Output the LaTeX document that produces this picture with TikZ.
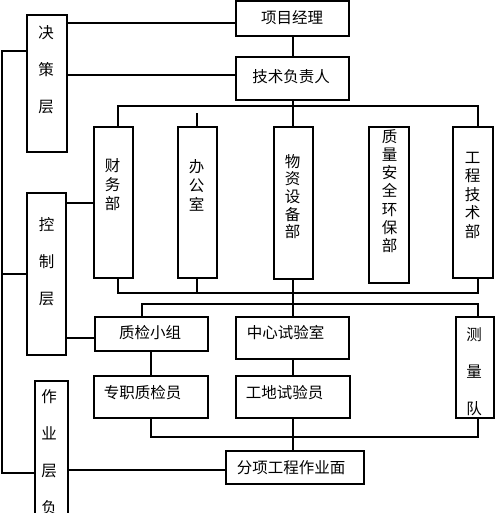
\documentclass[tikz,border=0pt]{standalone}
\usepackage{fontspec}
\newfontfamily\cjk{Noto Sans CJK SC}
\begin{document}
\begin{tikzpicture}[x=1pt,y=-1pt,line width=2pt,
  box/.style={draw,line width=2pt,inner sep=0pt,outer sep=0pt,anchor=north west},
  htxt/.style={font=\cjk\fontsize{15.5}{18}\selectfont,inner sep=0pt},
  vwide/.style={font=\cjk\fontsize{15.5}{37}\selectfont,inner sep=0pt,align=center},
  vnarrow/.style={font=\cjk\fontsize{15.5}{#1}\selectfont,inner sep=0pt,align=center}]
\useasboundingbox (0,0) rectangle (495,513);
% boxes
\node[box,minimum width=40pt,minimum height=137pt] (jc) at (27,15) {};
\node[box,minimum width=39pt,minimum height=162pt] (kz) at (27,193) {};
\node[box,minimum width=33pt,minimum height=140pt] (zy) at (35,381) {};
\node[box,minimum width=113pt,minimum height=35pt] (xmjl) at (236,1) {};
\node[box,minimum width=113pt,minimum height=43pt] (jsfz) at (236,57) {};
\node[box,minimum width=39pt,minimum height=151pt] (cw) at (94,127) {};
\node[box,minimum width=39pt,minimum height=151pt] (bg) at (178,127) {};
\node[box,minimum width=39pt,minimum height=152pt] (wz) at (274,127) {};
\node[box,minimum width=40pt,minimum height=156pt] (zl) at (369,127) {};
\node[box,minimum width=40pt,minimum height=151pt] (gc) at (453,127) {};
\node[box,minimum width=113pt,minimum height=34pt] (zj) at (95,317) {};
\node[box,minimum width=113pt,minimum height=42pt] (zx) at (236,317) {};
\node[box,minimum width=38pt,minimum height=101pt] (cl) at (456,317) {};
\node[box,minimum width=114pt,minimum height=42pt] (zz) at (94,376) {};
\node[box,minimum width=114pt,minimum height=42pt] (gd) at (236,376) {};
\node[box,minimum width=138pt,minimum height=33pt] (fx) at (226,451) {};
% texts
\node[vwide] (jct) at (46,70) {决\\策\\层};
\node[vwide] (kzt) at (46.5,262) {控\\制\\层};
\node[vwide] (zyt) at (49,452) {作\\业\\层\\负};
\node[vwide] (clt) at (474,371.5) {测\\量\\队};
\node[vnarrow=19] (cwt) at (112.5,185) {财\\务\\部};
\node[vnarrow=19] (bgt) at (196.5,185) {办\\公\\室};
\node[vnarrow=17.7] (wzt) at (292.5,196.5) {物\\资\\设\\备\\部};
\node[vnarrow=18.2] (zlt) at (389.5,191) {质\\量\\安\\全\\环\\保\\部};
\node[vnarrow=18.5] (gct) at (472.5,195) {工\\程\\技\\术\\部};
\node[htxt] (xmjlt) at (292,18) {项目经理};
\node[htxt] (jsfzt) at (291,77) {技术负责人};
\node[htxt] (zjt) at (150,333) {质检小组};
\node[htxt] (zxt) at (285.5,333) {中心试验室};
\node[htxt] (zzt) at (142.5,393) {专职质检员};
\node[htxt] (gdt) at (284.5,393) {工地试验员};
\node[htxt] (fxt) at (291,468) {分项工程作业面};
% coordinates
\coordinate (lt) at (2,51);
\coordinate (lb) at (2,473);
\coordinate (y23) at (0,23);
\coordinate (y75) at (0,75);
\coordinate (bL) at (118,106);
\coordinate (bR) at (478,106);
\coordinate (bgs) at (197,113);
\coordinate (mL) at (118,293);
\coordinate (mR) at (478,293);
\coordinate (nL) at (142,304);
\coordinate (nR) at (478,304);
\coordinate (y203) at (0,203);
\coordinate (y338) at (0,338);
\coordinate (qL) at (151,437);
\coordinate (qR) at (478,437);
\coordinate (y470) at (0,470);
% connectors
\draw (jc.east |- y23) -- (xmjl.west |- y23);
\draw (jc.east |- y75) -- (jsfz.west |- y75);
\draw (xmjl.south) -- (xmjl.south |- jsfz.north);
\draw (jc.west |- lt) -- (lt) -- (lb) -- (zy.west |- lb);
\draw (kz.west) -- (kz.west -| lt);
\draw (cw.north -| bL) -- (bL) -- (bR) -- (gc.north -| bR);
\draw (jsfz.south) -- (jsfz.south |- wz.north);
\draw (bg.north -| bgs) -- (bgs);
\draw (cw.south -| mL) -- (mL) -- (mR) -- (gc.south -| mR);
\draw (bg.south -| bgs) -- (bgs |- mL);
\draw (wz.south -| jsfz.south) -- (jsfz.south |- zx.north);
\draw (zj.north -| nL) -- (nL) -- (nR) -- (cl.north -| nR);
\draw (kz.east |- y203) -- (cw.west |- y203);
\draw (kz.east |- y338) -- (zj.west |- y338);
\draw (zj.south -| qL) -- (zz.north -| qL);
\draw (zx.south -| jsfz.south) -- (gd.north -| jsfz.south);
\draw (zz.south -| qL) -- (qL) -- (qR) -- (cl.south -| qR);
\draw (gd.south -| jsfz.south) -- (fx.north -| jsfz.south);
\draw (zy.east |- y470) -- (fx.west |- y470);
\end{tikzpicture}
\end{document}
